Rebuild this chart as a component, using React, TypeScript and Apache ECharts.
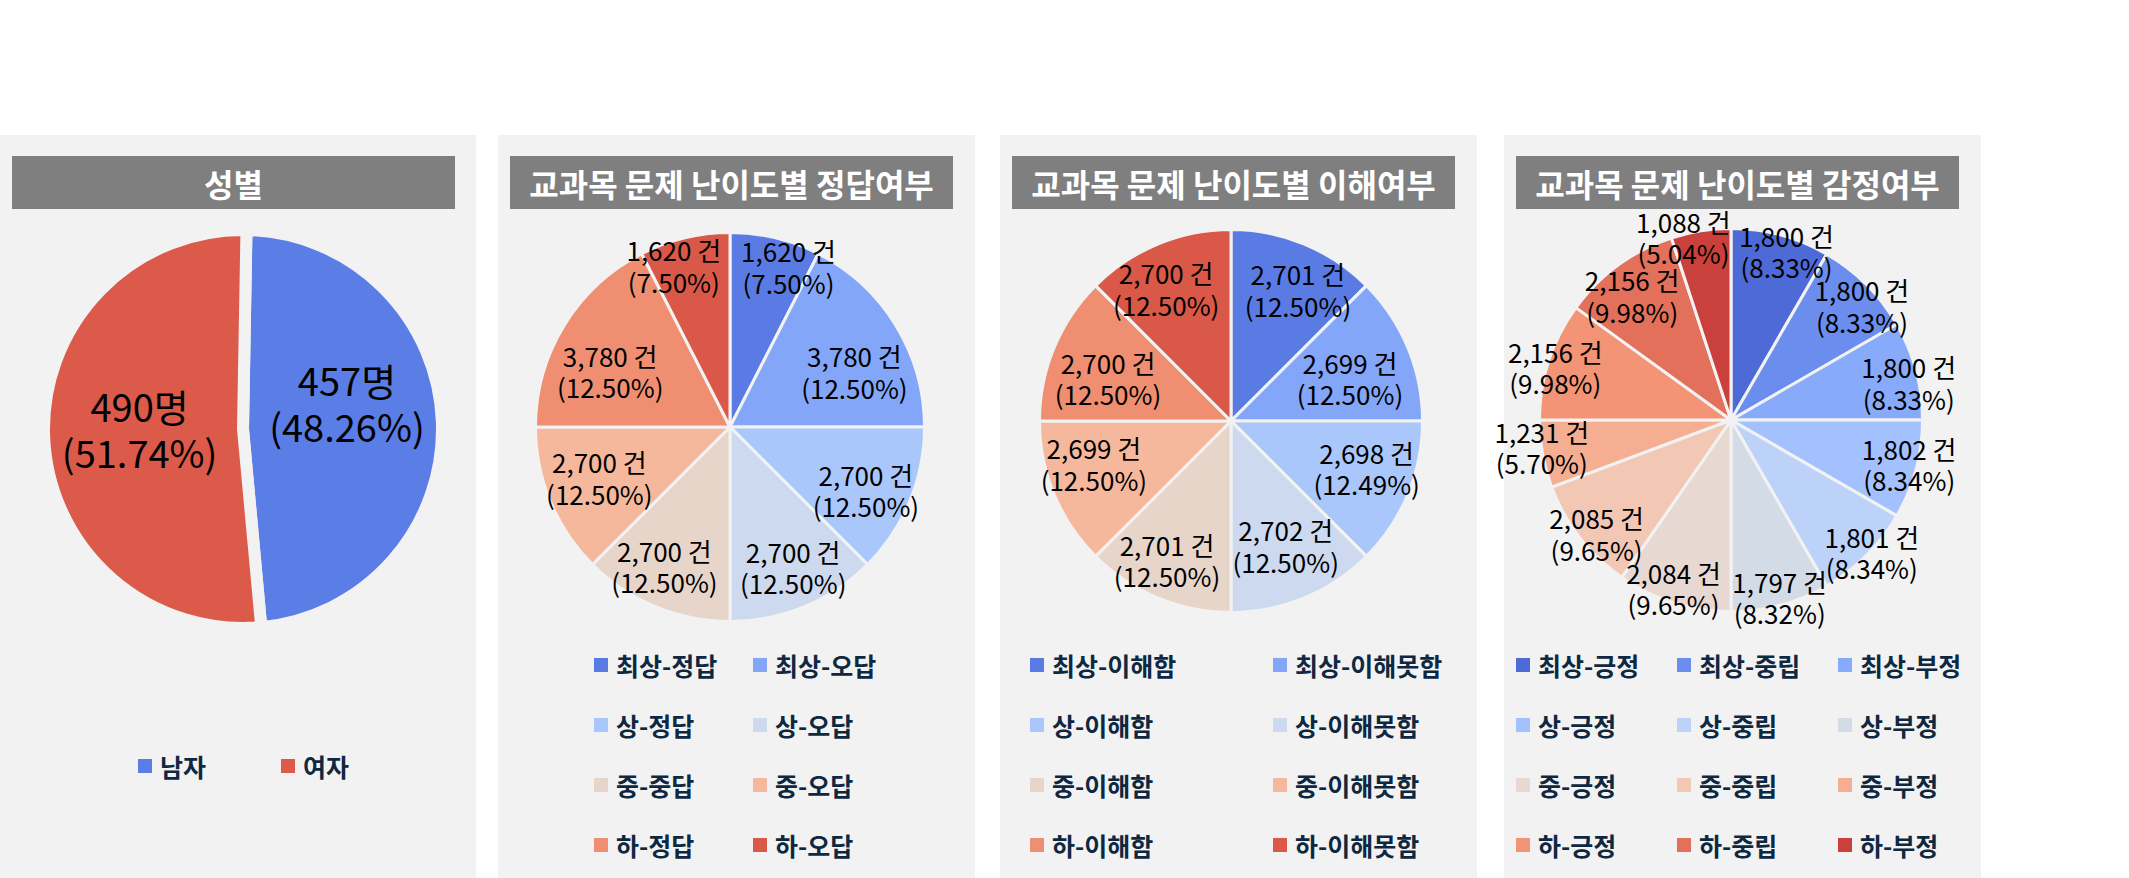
import React, { useEffect, useRef } from 'react';
import * as echarts from 'echarts';

const FONT = '"Noto Sans CJK KR", "Noto Sans", sans-serif';

// ---- Data ----
const panelTitles = ['성별', '교과목 문제 난이도별 정답여부', '교과목 문제 난이도별 이해여부', '교과목 문제 난이도별 감정여부'];

const genderNames = ['남자', '여자'];
const genderValues = [457, 490];
const genderPct = ['48.26%', '51.74%'];

const answerNames = ['최상-정답', '최상-오답', '상-정답', '상-오답', '중-중답', '중-오답', '하-정답', '하-오답'];
const answerValues = [1620, 3780, 2700, 2700, 2700, 2700, 3780, 1620];
const answerPct = ['7.50%', '12.50%', '12.50%', '12.50%', '12.50%', '12.50%', '12.50%', '7.50%'];

const understandNames = ['최상-이해함', '최상-이해못함', '상-이해함', '상-이해못함', '중-이해함', '중-이해못함', '하-이해함', '하-이해못함'];
const understandValues = [2701, 2699, 2698, 2702, 2701, 2699, 2700, 2700];
const understandPct = ['12.50%', '12.50%', '12.49%', '12.50%', '12.50%', '12.50%', '12.50%', '12.50%'];

const emotionNames = ['최상-긍정', '최상-중립', '최상-부정', '상-긍정', '상-중립', '상-부정', '중-긍정', '중-중립', '중-부정', '하-긍정', '하-중립', '하-부정'];
const emotionValues = [1800, 1800, 1800, 1802, 1801, 1797, 2084, 2085, 1231, 2156, 2156, 1088];
const emotionPct = ['8.33%', '8.33%', '8.33%', '8.34%', '8.34%', '8.32%', '9.65%', '9.65%', '5.70%', '9.98%', '9.98%', '5.04%'];

// ---- Styles ----
const genderColors = ['#5b7de6', '#db5a4a'];
const palette8 = ['#5b7be4', '#83a6f8', '#aac7fb', '#cdd9ee', '#e8d5c9', '#f6b89d', '#ef8e70', '#d95847'];
const palette12 = ['#4e6ad6', '#6b8eee', '#88aafb', '#a3c1fe', '#bdd2f9', '#d3dbe7', '#e7d9d2', '#f2c8b5', '#f6ae92', '#f29475', '#e2705a', '#c9403c'];

const panelX = [0, 498, 1000, 1504];
const panelW = [476, 477, 477, 477];

const fmtNum = (v: number) => v.toLocaleString('en-US');

// label placement style: radial factor (of pie radius) and angular nudge (deg, clockwise)
const pieDefs = [
  {
    names: genderNames, values: genderValues, pct: genderPct, colors: genderColors,
    fmt: (v: number, p: string) => `${v}명\n(${p})`,
    center: [243, 429], rv: 193, border: 12, startAngle: 89,
    labelF: [0.54, 0.52], labelShift: [-12, 2.5], fontSize: 38, lineHeight: 46,
    legendCols: [138, 281], legendTop: 753,
  },
  {
    names: answerNames, values: answerValues, pct: answerPct, colors: palette8,
    fmt: (v: number, p: string) => `${fmtNum(v)} 건\n(${p})`,
    center: [730, 427], rv: 193, border: 3, startAngle: 90,
    labelF: [0.87, 0.69, 0.76, 0.78, 0.78, 0.71, 0.67, 0.87],
    labelShift: [6.5, 7.5, 2.3, -1.8, 2.8, 1.4, -6.4, -5.7], fontSize: 26, lineHeight: 31.5,
    legendCols: [594, 753], legendTop: 652,
  },
  {
    names: understandNames, values: understandValues, pct: understandPct, colors: palette8,
    fmt: (v: number, p: string) => `${fmtNum(v)} 건\n(${p})`,
    center: [1231, 421], rv: 190, border: 3, startAngle: 90,
    labelF: [0.76, 0.65, 0.74, 0.70, 0.79, 0.74, 0.67, 0.76],
    labelShift: [4.5, 2.6, -3.3, -1.2, 2.2, 5.2, -3.2, -3.6], fontSize: 26, lineHeight: 31.5,
    legendCols: [1030, 1273], legendTop: 652,
  },
  {
    names: emotionNames, values: emotionValues, pct: emotionPct, colors: palette12,
    fmt: (v: number, p: string) => `${fmtNum(v)} 건\n(${p})`,
    center: [1731, 420], rv: 190, border: 3, startAngle: 90,
    labelF: [0.92, 0.90, 0.94, 0.95, 1.0, 0.95, 0.92, 0.91, 0.99, 0.95, 0.82, 0.98],
    labelShift: [3.2, 3.8, 3.1, -1.2, -1.9, -0.4, 1.5, -2.3, 2.1, -1.2, -2.4, -5.5], fontSize: 26, lineHeight: 31.5,
    legendCols: [1516, 1677, 1838], legendTop: 652,
  },
];

function buildOption() {
  const visible: any[] = [];
  const labelSeries: any[] = [];
  const legends: any[] = [];

  pieDefs.forEach((d, pi) => {
    visible.push({
      type: 'pie',
      name: 'pie' + pi,
      center: d.center,
      radius: [0, d.rv + d.border / 2],
      startAngle: d.startAngle,
      clockwise: true,
      avoidLabelOverlap: false,
      silent: true,
      label: { show: false },
      labelLine: { show: false },
      itemStyle: { borderColor: '#f2f2f2', borderWidth: d.border },
      data: d.names.map((n, i) => ({ name: n, value: d.values[i], itemStyle: { color: d.colors[i] } })),
    });

    // one transparent label ring per slice, so that each label sits at its own radius / angle
    d.names.forEach((_, li) => {
      const f = d.labelF[li];
      labelSeries.push({
        type: 'pie',
        name: 'label' + pi + '_' + li,
        center: d.center,
        radius: [(f - 0.05) * d.rv, (f + 0.05) * d.rv],
        startAngle: d.startAngle - d.labelShift[li],
        clockwise: true,
        avoidLabelOverlap: false,
        silent: true,
        legendHoverLink: false,
        labelLayout: { hideOverlap: false },
        z: 5,
        itemStyle: { color: 'rgba(0,0,0,0)', borderWidth: 0 },
        labelLine: { show: false },
        emphasis: { disabled: true },
        label: {
          show: true,
          position: 'inside',
          color: '#000',
          fontFamily: FONT,
          fontSize: d.fontSize,
          lineHeight: d.lineHeight,
          align: 'center',
          formatter: (p: any) => d.fmt(d.values[p.dataIndex], d.pct[p.dataIndex]),
        },
        data: d.names.map((n, i) => ({
          name: n,
          value: d.values[i],
          label: { show: i === li },
        })),
      });
    });

    const k = d.legendCols.length;
    d.legendCols.forEach((x, c) => {
      legends.push({
        orient: 'vertical',
        left: x,
        top: d.legendTop,
        itemWidth: 14,
        itemHeight: 14,
        itemGap: 34,
        icon: 'rect',
        selectedMode: false,
        padding: 0,
        itemStyle: { borderWidth: 0 },
        textStyle: { fontFamily: FONT, fontSize: 25, fontWeight: 'bold', color: '#0e2841', lineHeight: 26, padding: [0, 0, 0, 3] },
        data: d.names.filter((_, i) => i % k === c),
      });
    });
  });

  const graphic: any[] = [];
  panelX.forEach((x, i) => {
    graphic.push({ type: 'rect', z: 0, shape: { x, y: 135, width: panelW[i], height: 743 }, style: { fill: '#f2f2f2' } });
    graphic.push({ type: 'rect', z: 1, shape: { x: x + 12, y: 156, width: 443, height: 53 }, style: { fill: '#7f7f7f' } });
    graphic.push({
      type: 'text', z: 2, x: x + 12 + 221.5, y: 183,
      style: { text: panelTitles[i], fill: '#ffffff', fontFamily: FONT, fontSize: 32, fontWeight: 'bold', align: 'center', verticalAlign: 'middle' },
    });
  });

  return {
    animation: false,
    backgroundColor: '#ffffff',
    graphic,
    legend: legends,
    series: [...visible, ...labelSeries],
  };
}

export default function App() {
  const ref = useRef<HTMLDivElement>(null);
  useEffect(() => {
    const chart = echarts.init(ref.current!, null, { renderer: 'svg' });
    chart.setOption(buildOption() as any);
    return () => chart.dispose();
  }, []);
  return (
    <div
      ref={ref}
      style={{ position: 'absolute', left: 0, top: 0, width: 2129, height: 878, background: '#fff' }}
    />
  );
}
